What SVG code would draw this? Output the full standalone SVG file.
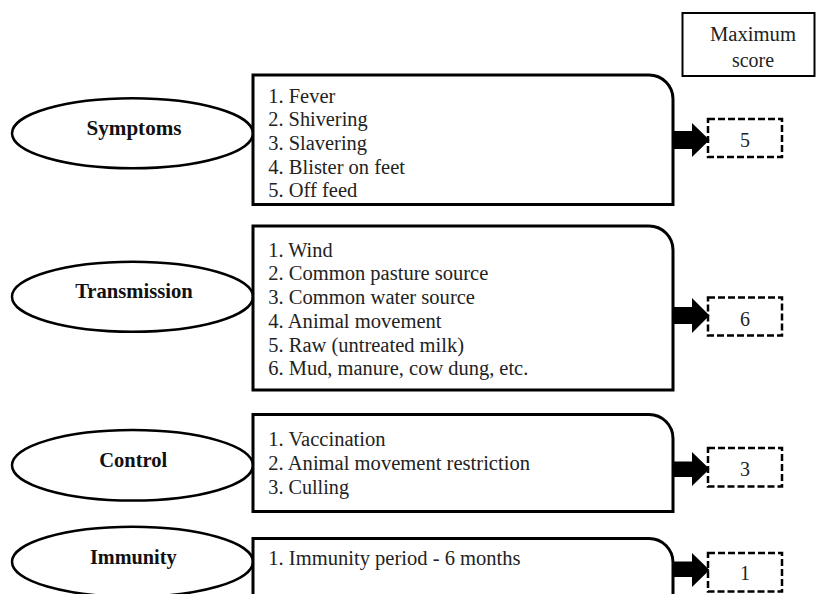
<svg xmlns="http://www.w3.org/2000/svg" width="816" height="594" viewBox="0 0 816 594">
<style>
  .ell { fill: #fff; stroke: #000; stroke-width: 2.5; }
  .box { fill: #fff; stroke: #000; stroke-width: 3; }
  .score { fill: #fff; stroke: #000; stroke-width: 2.5; stroke-dasharray: 7 3; }
  .hdr { fill: #fff; stroke: #000; stroke-width: 2; }
  text { font-family: 'Liberation Serif', 'DejaVu Serif', 'Noto Serif', serif; }
  .lbl { font-weight: bold; font-size: 21px; fill: #111; text-anchor: middle; }
  .item { font-size: 20px; fill: #222; }
  .num { font-size: 20px; fill: #222; text-anchor: middle; }
  .arr { fill: #000; }
</style>
<rect width="816" height="594" fill="#fff"/>

<g id="header">
  <rect class="hdr" x="682.5" y="13" width="132" height="63"/>
  <text class="num" x="753" y="41" textLength="86" lengthAdjust="spacingAndGlyphs">Maximum</text>
  <text class="num" x="753" y="67" textLength="42" lengthAdjust="spacingAndGlyphs">score</text>
</g>

<g id="symptoms">
  <ellipse class="ell" cx="132.5" cy="133.3" rx="120.5" ry="35"/>
  <text class="lbl" x="134" y="135" textLength="95" lengthAdjust="spacingAndGlyphs">Symptoms</text>
</g>
<g id="symptoms-list">
  <path class="box" d="M253,75 H649 A24,24 0 0 1 673,99 V204.5 H253 Z"/>
  <text class="item" x="268.3" y="102.5" textLength="67" lengthAdjust="spacingAndGlyphs">1. Fever</text>
  <text class="item" x="268.3" y="126" textLength="99.3" lengthAdjust="spacingAndGlyphs">2. Shivering</text>
  <text class="item" x="268.3" y="149.5" textLength="98.7" lengthAdjust="spacingAndGlyphs">3. Slavering</text>
  <text class="item" x="268.3" y="173.5" textLength="136.7" lengthAdjust="spacingAndGlyphs">4. Blister on feet</text>
  <text class="item" x="268.3" y="197" textLength="89" lengthAdjust="spacingAndGlyphs">5. Off feed</text>
</g>
<g id="symptoms-score">
  <rect class="score" x="708" y="119" width="74" height="38"/>
  <text class="num" x="745" y="146.5">5</text>
</g>

<g id="transmission">
  <ellipse class="ell" cx="132.5" cy="296.7" rx="120.5" ry="35"/>
  <text class="lbl" x="134" y="298.3" textLength="117.7" lengthAdjust="spacingAndGlyphs">Transmission</text>
</g>
<g id="transmission-list">
  <path class="box" d="M253,226 H649 A24,24 0 0 1 673,250 V390 H253 Z"/>
  <text class="item" x="268.3" y="256.5" textLength="64.3" lengthAdjust="spacingAndGlyphs">1. Wind</text>
  <text class="item" x="268.3" y="280.3" textLength="220" lengthAdjust="spacingAndGlyphs">2. Common pasture source</text>
  <text class="item" x="268.3" y="304" textLength="206.7" lengthAdjust="spacingAndGlyphs">3. Common water source</text>
  <text class="item" x="268.3" y="327.7" textLength="173.3" lengthAdjust="spacingAndGlyphs">4. Animal movement</text>
  <text class="item" x="268.3" y="351.5" textLength="195.7" lengthAdjust="spacingAndGlyphs">5. Raw (untreated milk)</text>
  <text class="item" x="268.3" y="375.2" textLength="260" lengthAdjust="spacingAndGlyphs">6. Mud, manure, cow dung, etc.</text>
</g>
<g id="transmission-score">
  <rect class="score" x="708" y="297.5" width="74" height="38"/>
  <text class="num" x="745" y="326">6</text>
</g>

<g id="control">
  <ellipse class="ell" cx="132.5" cy="465.3" rx="120.5" ry="35.3"/>
  <text class="lbl" x="133.3" y="466.5" textLength="68" lengthAdjust="spacingAndGlyphs">Control</text>
</g>
<g id="control-list">
  <path class="box" d="M253,414.5 H649 A24,24 0 0 1 673,438.5 V511.5 H253 Z"/>
  <text class="item" x="268.3" y="445.7" textLength="117.3" lengthAdjust="spacingAndGlyphs">1. Vaccination</text>
  <text class="item" x="268.3" y="470.3" textLength="261.7" lengthAdjust="spacingAndGlyphs">2. Animal movement restriction</text>
  <text class="item" x="268.3" y="493.7" textLength="80.7" lengthAdjust="spacingAndGlyphs">3. Culling</text>
</g>
<g id="control-score">
  <rect class="score" x="708" y="448" width="74" height="38.5"/>
  <text class="num" x="745" y="476">3</text>
</g>

<g id="immunity">
  <ellipse class="ell" cx="132.5" cy="561.8" rx="120.5" ry="35"/>
  <text class="lbl" x="133.3" y="563.5" textLength="86.7" lengthAdjust="spacingAndGlyphs">Immunity</text>
</g>
<g id="immunity-list">
  <path class="box" d="M253,538.5 H649 A24,24 0 0 1 673,562.5 V610 H253 Z"/>
  <text class="item" x="268.3" y="565" textLength="252.3" lengthAdjust="spacingAndGlyphs">1. Immunity period - 6 months</text>
</g>
<g id="immunity-score">
  <rect class="score" x="708" y="553" width="74" height="38.5"/>
  <text class="num" x="745" y="580">1</text>
</g>

<g id="connectors">
  <polygon class="arr" points="673,131 692,131 692,123 709.5,140 692,157 692,149 673,149"/>
  <polygon class="arr" points="673,307 692,307 692,298 709.5,315.5 692,333 692,324 673,324"/>
  <polygon class="arr" points="673,461.5 692,461.5 692,452 709.5,469 692,486 692,477 673,477"/>
  <polygon class="arr" points="673,561.5 692,561.5 692,553 709.5,570 692,587 692,577 673,577"/>
</g>
</svg>
